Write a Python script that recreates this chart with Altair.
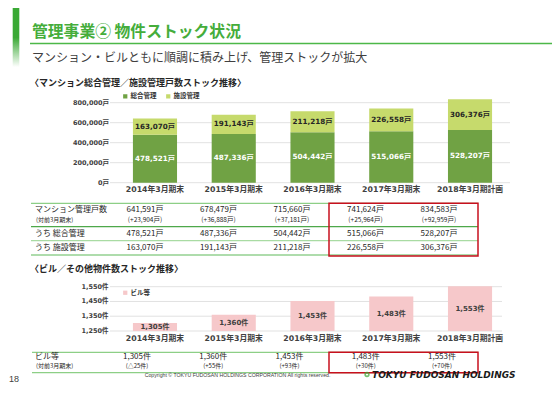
import altair as alt
import pandas as pd

# ---------------- data ----------------
years = ["2014年3月期末", "2015年3月期末", "2016年3月期末", "2017年3月期末", "2018年3月期計画"]
sogo = [478521, 487336, 504442, 515066, 528207]          # 総合管理
shisetsu = [163070, 191143, 211218, 226558, 306376]      # 施設管理
mansion_total = [641591, 678479, 715660, 741624, 834583]
mansion_diff = ["(+23,904戸)", "(+36,888戸)", "(+37,181戸)", "(+25,964戸)", "(+92,959戸)"]
building = [1305, 1360, 1453, 1483, 1553]                # ビル等
building_diff = ["(△25件)", "(+55件)", "(+93件)", "(+30件)", "(+70件)"]
top_ticks = [0, 200000, 400000, 600000, 800000]
bottom_ticks = [1250, 1350, 1450, 1550]
series_top = ["総合管理", "施設管理"]
series_bottom = ["ビル等"]

JP = "Noto Sans CJK JP"
NUM = "DejaVu Sans, Noto Sans CJK JP"
GREEN_D = "#70a244"
GREEN_L = "#c6da6c"
PINK = "#f6c8ca"
TITLE_G = "#45ad3b"

# ---------------- tables ----------------
rows = []
for y, a, b in zip(years, sogo, shisetsu):
    rows.append(dict(year=y, series="総合管理", start=0, end=a, mid=a / 2, label=f"{a:,}戸"))
    rows.append(dict(year=y, series="施設管理", start=a, end=a + b, mid=a + b / 2, label=f"{b:,}戸"))
stack = pd.DataFrame(rows)
ticks_top = pd.DataFrame({"v": top_ticks, "t": [f"{v:,}戸" for v in top_ticks]})
ticks_bot = pd.DataFrame({"v": bottom_ticks, "t": [f"{v:,}件" for v in bottom_ticks]})
bld = pd.DataFrame({"year": years, "series": "ビル等", "v": building, "base": 1250,
                    "mid": [(1250 + v) / 2 for v in building], "label": [f"{v:,}件" for v in building]})
tab1 = pd.DataFrame({"year": years,
                     "total": [f"{v:,}戸" for v in mansion_total],
                     "diff": mansion_diff,
                     "sogo": [f"{v:,}戸" for v in sogo],
                     "shis": [f"{v:,}戸" for v in shisetsu]})
tab2 = pd.DataFrame({"year": years, "v": [f"{v:,}件" for v in building], "diff": building_diff})
cats = pd.DataFrame({"year": years})
one = pd.DataFrame({"k": [0]})

# ---------------- scales ----------------
XB = dict(domain=years, range=[107.6, 501.4], paddingInner=0.44, paddingOuter=0.22)
def xb():
    return alt.X("year:N", scale=alt.Scale(**XB), axis=None)
def xp(rng):
    return alt.X("year:N", scale=alt.Scale(type="point", domain=years, range=rng, padding=0), axis=None)
YT = dict(domain=[0, 800000], range=[174.7, 94.7], nice=False)
YB = dict(domain=[1250, 1550], range=[323, 278.7], nice=False, zero=False)

def txt(t, x, y, size, color="#333333", weight="normal", font=JP, align="left", style="normal"):
    return alt.Chart(one).mark_text(text=t, align=align, baseline="middle", fontSize=size,
                                    color=color, fontWeight=weight, font=font, fontStyle=style
                                    ).encode(x=alt.value(x), y=alt.value(y))

def hline(x1, x2, y, color, w=1.2):
    return alt.Chart(one).mark_rule(color=color, strokeWidth=w).encode(
        x=alt.value(x1), x2=alt.value(x2), y=alt.value(y))

def box(x1, x2, y1, y2):
    return alt.Chart(one).mark_rect(fill=None, stroke="#c8101e", strokeWidth=1.5).encode(
        x=alt.value(x1), x2=alt.value(x2), y=alt.value(y1), y2=alt.value(y2))

layers = []

# header
grad = alt.Gradient(gradient="linear", x1=0, x2=0, y1=0, y2=1,
                    stops=[alt.GradientStop(color="#3aa935", offset=0),
                           alt.GradientStop(color="#3aa935", offset=0.5),
                           alt.GradientStop(color="#ffffff", offset=1)])
layers.append(alt.Chart(one).mark_rect(fill=grad).encode(
    x=alt.value(4.7), x2=alt.value(11.3), y=alt.value(0), y2=alt.value(59)))
layers.append(txt("管理事業② 物件ストック状況", 24, 24, 15.8, TITLE_G, "bold"))
layers.append(hline(22, 544, 35.5, "#4cb848", 1.5))
layers.append(txt("マンション・ビルともに順調に積み上げ、管理ストックが拡大", 24, 50.3, 12, "#404040"))
layers.append(txt("〈マンション総合管理／施設管理戸数ストック推移〉", 22, 74.7, 9, "#262626", "bold"))

# top chart
layers.append(alt.Chart(ticks_top).mark_rule(color="#d9d9d9", strokeWidth=0.8).encode(
    y=alt.Y("v:Q", scale=alt.Scale(**YT), axis=None), x=alt.value(102), x2=alt.value(502)))
layers.append(alt.Chart(ticks_top).mark_text(align="right", baseline="middle", fontSize=6.5,
                                             font=NUM, fontWeight="bold", color="#404040").encode(
    y=alt.Y("v:Q", scale=alt.Scale(**YT), axis=None), x=alt.value(101), text="t:N"))
layers.append(alt.Chart(stack).mark_bar().encode(
    x=xb(),
    y=alt.Y("start:Q", scale=alt.Scale(**YT), axis=None), y2="end:Q",
    color=alt.Color("series:N", scale=alt.Scale(domain=series_top, range=[GREEN_D, GREEN_L]),
                    legend=alt.Legend(orient="none", legendX=114, legendY=85, direction="horizontal",
                                      title=None, symbolType="square", symbolSize=18,
                                      symbolStrokeWidth=0, labelFontSize=6.5, labelFont=JP,
                                      labelFontWeight="bold", labelColor="#333333",
                                      columnPadding=8, labelOffset=2, padding=0))))
layers.append(alt.Chart(stack[stack.series == "総合管理"]).mark_text(
    fontSize=7.2, font=NUM, fontWeight="bold", color="white", baseline="middle").encode(
    x=xb(), y=alt.Y("mid:Q", scale=alt.Scale(**YT), axis=None), text="label:N"))
layers.append(alt.Chart(stack[stack.series == "施設管理"]).mark_text(
    fontSize=7.2, font=NUM, fontWeight="bold", color="#262626", baseline="middle").encode(
    x=xb(), y=alt.Y("mid:Q", scale=alt.Scale(**YT), axis=None), text="label:N"))
layers.append(alt.Chart(cats).mark_text(fontSize=7.8, font=NUM, fontWeight="bold",
                                        color="#404040", baseline="middle").encode(
    x=xb(), y=alt.value(182), text="year:N"))

# top table
layers.append(hline(23, 470, 195.3, "#8dcf86"))
layers.append(hline(23, 470, 218.7, "#4ea84a"))
layers.append(hline(23, 470, 232.7, "#a9dba3"))
layers.append(hline(23, 470, 247, "#5fb95a"))
layers.append(txt("マンション管理戸数", 27, 202, 8, "#262626"))
layers.append(txt("(対前3月期末)", 28, 212, 6, "#262626"))
layers.append(txt("うち 総合管理", 27, 225.5, 8, "#262626"))
layers.append(txt("うち 施設管理", 27, 239.5, 8, "#262626"))
for col, yy, sz in [("total", 202, 8), ("diff", 212, 6.5), ("sogo", 225.5, 8), ("shis", 239.5, 8)]:
    layers.append(alt.Chart(tab1).mark_text(fontSize=sz, font=JP, color="#262626", baseline="middle").encode(
        x=xp([137, 431]), y=alt.value(yy), text=f"{col}:N"))
layers.append(box(321, 470, 195.3, 248))

# bottom chart
layers.append(txt("〈ビル／その他物件数ストック推移〉", 22, 261, 9, "#262626", "bold"))
layers.append(alt.Chart(ticks_bot).mark_rule(color="#d9d9d9", strokeWidth=0.8).encode(
    y=alt.Y("v:Q", scale=alt.Scale(**YB), axis=None), x=alt.value(102), x2=alt.value(494)))
layers.append(alt.Chart(ticks_bot).mark_text(align="right", baseline="middle", fontSize=6.5,
                                             font=NUM, fontWeight="bold", color="#404040").encode(
    y=alt.Y("v:Q", scale=alt.Scale(**YB), axis=None), x=alt.value(100.5), text="t:N"))
layers.append(alt.Chart(bld).mark_bar().encode(
    x=xb(),
    y=alt.Y("v:Q", scale=alt.Scale(**YB), axis=None), y2="base:Q",
    color=alt.Color("series:N", scale=alt.Scale(domain=series_bottom, range=[PINK]),
                    legend=alt.Legend(orient="none", legendX=114, legendY=281.5, direction="horizontal",
                                      title=None, symbolType="square", symbolSize=18,
                                      symbolStrokeWidth=0, labelFontSize=6.5, labelFont=JP,
                                      labelFontWeight="bold", labelColor="#333333",
                                      labelOffset=2, padding=0))))
layers.append(alt.Chart(bld).mark_text(fontSize=7, font=NUM, fontWeight="bold",
                                       color="#404040", baseline="middle").encode(
    x=xb(), y=alt.Y("mid:Q", scale=alt.Scale(**YB), axis=None), text="label:N"))
layers.append(alt.Chart(cats).mark_text(fontSize=7.8, font=NUM, fontWeight="bold",
                                        color="#404040", baseline="middle").encode(
    x=xb(), y=alt.value(331.3), text="year:N"))

# bottom table
layers.append(hline(24, 470, 344.3, "#8dcf86"))
layers.append(hline(24, 470, 364.7, "#8dcf86"))
layers.append(txt("ビル等", 27, 348.9, 8, "#262626"))
layers.append(txt("(対前3月期末)", 28, 357.6, 6, "#262626"))
layers.append(alt.Chart(tab2).mark_text(fontSize=8, font=JP, color="#262626", baseline="middle").encode(
    x=xp([129, 434]), y=alt.value(348.8), text="v:N"))
layers.append(alt.Chart(tab2).mark_text(fontSize=6, font=JP, color="#262626", baseline="middle").encode(
    x=xp([129, 434]), y=alt.value(357.8), text="diff:N"))
layers.append(box(321, 470, 344.3, 364.7))

# footer
layers.append(txt("18", 1, 371, 9, "#404040", font="Liberation Sans"))
layers.append(txt("Copyright © TOKYU FUDOSAN HOLDINGS CORPORATION All rights reserved.",
                  229.5, 366.5, 5.2, "#404040", font="Liberation Sans", align="center"))
layers.append(alt.Chart(one).mark_point(shape="circle", size=14, stroke="#3aa935", strokeWidth=1.6,
                                        filled=False).encode(x=alt.value(359), y=alt.value(366.5)))
layers.append(txt("TOKYU FUDOSAN HOLDINGS", 364, 366.8, 9, "#1a1a1a", "bold",
                  font="DejaVu Sans", style="italic"))

chart = alt.layer(*layers).resolve_scale(
    x="independent", y="independent", color="independent"
).properties(
    width=544, height=380, padding=0, autosize=alt.AutoSizeParams(type="none")
).configure_view(stroke=None)

chart.save("out.html", embed_options={"renderer": "svg", "actions": False})
